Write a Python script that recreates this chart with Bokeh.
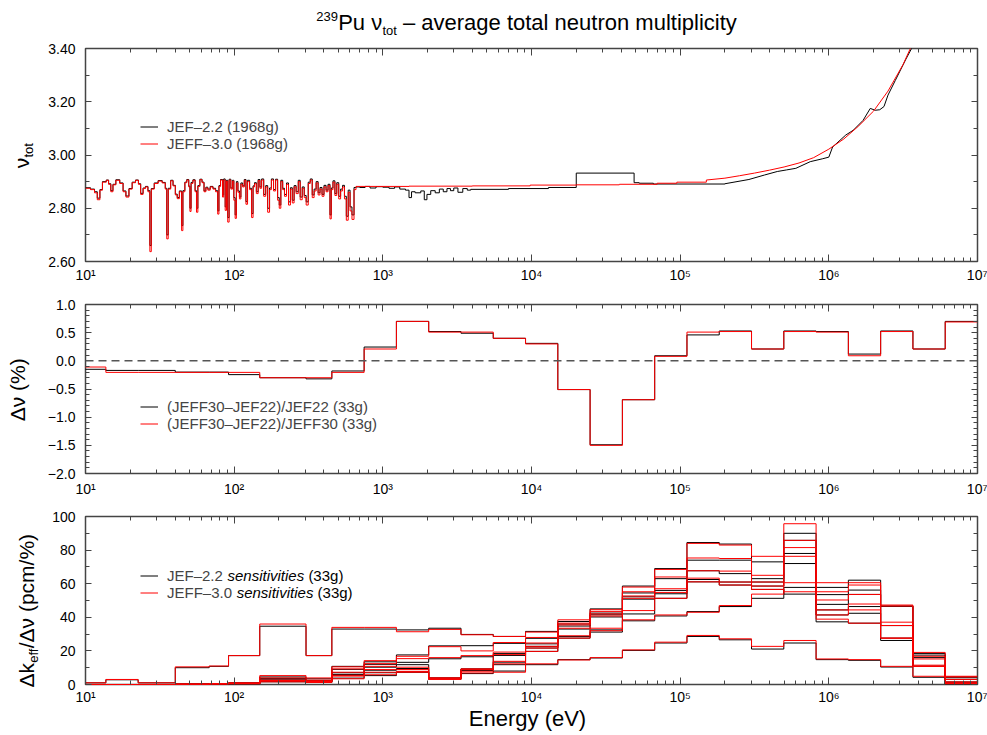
import math
from bokeh.plotting import figure
from bokeh.models import (LogAxis, LinearAxis, FixedTicker, CustomJSTickFormatter,
                          Label, Legend, LegendItem, Span, Range1d)
from bokeh.layouts import column, row
from bokeh.embed import file_html
from bokeh.resources import INLINE

FONT = "Liberation Sans"
BLACK = "#000000"
RED = "#ff0000"
FRAME = "#444444"

# ---------------- panel 1 : nu_tot (1968 groups) ----------------
e_res = [10.0, 10.8, 11.5, 12.0, 12.5, 13.0, 13.8, 14.3, 14.8, 15.3,
         16.0, 17.0, 17.9, 18.7, 19.6, 20.6, 21.7, 22.7, 23.5, 24.4,
         25.3, 26.3, 27.1, 27.7, 29.0, 30.8, 32.8, 34.4, 35.2, 36.0,
         37.4, 38.8, 40.2, 41.4, 42.8, 44.3, 45.2, 46.6, 48.0, 49.5,
         50.4, 51.3, 52.8, 54.6, 55.8, 57.0, 58.8, 60.8, 62.7, 64.5,
         66.5, 69.0, 72.0, 75.0, 77.5, 79.0, 81.0, 83.5, 85.0, 87.0,
         88.8, 90.5, 92.5, 95.0, 97.5, 99.5, 101.5, 103.5, 106.0, 108.5,
         111.0, 114.0, 117.0, 120.0, 123.0, 127.0, 131.0, 134.0, 137.0, 141.0,
         145.0, 149.0, 153.0, 158.0, 163.0, 168.0, 173.0, 178.0, 184.0, 190.0,
         196.0, 201.0, 206.0, 212.0, 218.0, 225.0, 232.0, 239.0, 246.0, 253.0,
         261.0, 270.0, 278.0, 287.0, 296.0, 305.0, 315.0, 325.0, 335.0, 345.0,
         356.0, 367.0, 378.0, 390.0, 402.0, 415.0, 428.0, 441.0, 450.0, 462.0,
         476.0, 490.0, 505.0, 520.0, 536.0, 552.0, 568.0, 585.0, 602.0, 620.0,
         640.0]
nu_res_jeff30 = [2.875, 2.870, 2.858, 2.832, 2.868, 2.898, 2.905, 2.890, 2.862, 2.888,
                 2.905, 2.893, 2.862, 2.842, 2.872, 2.896, 2.905, 2.890, 2.852, 2.874,
                 2.880, 2.862, 2.637, 2.872, 2.893, 2.902, 2.895, 2.872, 2.685, 2.872,
                 2.903, 2.884, 2.850, 2.836, 2.862, 2.716, 2.862, 2.896, 2.906, 2.880,
                 2.788, 2.893, 2.905, 2.862, 2.785, 2.882, 2.907, 2.896, 2.862, 2.876,
                 2.868, 2.880, 2.872, 2.862, 2.778, 2.882, 2.906, 2.842, 2.906, 2.792,
                 2.902, 2.748, 2.906, 2.872, 2.902, 2.830, 2.762, 2.895, 2.860, 2.835,
                 2.890, 2.880, 2.905, 2.815, 2.900, 2.870, 2.765, 2.880, 2.892, 2.855,
                 2.904, 2.875, 2.906, 2.845, 2.880, 2.785, 2.870, 2.906, 2.865, 2.906,
                 2.830, 2.800, 2.900, 2.870, 2.845, 2.890, 2.812, 2.872, 2.820, 2.880,
                 2.855, 2.900, 2.832, 2.875, 2.840, 2.812, 2.893, 2.906, 2.840, 2.865,
                 2.895, 2.850, 2.872, 2.845, 2.880, 2.862, 2.885, 2.760, 2.870, 2.898,
                 2.848, 2.890, 2.835, 2.865, 2.880, 2.835, 2.755, 2.860, 2.790, 2.758,
                 2.870]
nu_res_jef22 = [2.877, 2.872, 2.862, 2.838, 2.870, 2.900, 2.906, 2.892, 2.866, 2.890,
                2.907, 2.895, 2.865, 2.846, 2.874, 2.898, 2.906, 2.892, 2.856, 2.876,
                2.882, 2.866, 2.660, 2.874, 2.895, 2.904, 2.897, 2.875, 2.700, 2.875,
                2.905, 2.886, 2.853, 2.840, 2.865, 2.735, 2.866, 2.898, 2.908, 2.883,
                2.800, 2.897, 2.907, 2.866, 2.800, 2.885, 2.909, 2.898, 2.865, 2.879,
                2.872, 2.882, 2.875, 2.866, 2.790, 2.885, 2.908, 2.850, 2.910, 2.805,
                2.905, 2.765, 2.909, 2.876, 2.905, 2.840, 2.775, 2.900, 2.865, 2.842,
                2.895, 2.884, 2.908, 2.825, 2.905, 2.875, 2.780, 2.884, 2.896, 2.862,
                2.908, 2.880, 2.910, 2.852, 2.885, 2.800, 2.876, 2.910, 2.870, 2.909,
                2.840, 2.812, 2.905, 2.875, 2.852, 2.895, 2.824, 2.877, 2.830, 2.885,
                2.862, 2.905, 2.842, 2.880, 2.848, 2.824, 2.898, 2.910, 2.850, 2.872,
                2.900, 2.858, 2.878, 2.852, 2.886, 2.868, 2.890, 2.775, 2.876, 2.903,
                2.855, 2.896, 2.845, 2.872, 2.886, 2.845, 2.770, 2.868, 2.805, 2.775,
                2.878]

e_step_jef22 = [660, 700, 760, 820, 900, 1000, 1100, 1200, 1300, 1420,
                1500, 1560, 1650, 1800, 1900, 1980, 2100, 2250, 2400, 2550,
                2700, 2850, 3000, 3200, 3450, 3700, 3900, 7000, 13000, 20000,
                49000, 53000, 66000, 200000]
nu_step_jef22 = [2.880, 2.878, 2.882, 2.876, 2.881, 2.879, 2.875, 2.880, 2.872, 2.868,
                 2.840, 2.862, 2.858, 2.865, 2.832, 2.852, 2.866, 2.858, 2.872, 2.862,
                 2.874, 2.866, 2.876, 2.860, 2.874, 2.868, 2.871, 2.874, 2.878, 2.932,
                 2.896, 2.894, 2.891, 2.892]
e_fast_jef22 = [2.0e5, 2.9e5, 3.7e5, 4.5e5, 5.2e5, 6.0e5, 7.5e5, 9.1e5, 1.0e6, 1.06e6,
                1.3e6, 1.46e6, 1.7e6, 1.9e6, 2.05e6, 2.2e6, 2.35e6, 2.5e6, 2.8e6, 3.3e6,
                3.6e6, 4.0e6]
nu_fast_jef22 = [2.892, 2.908, 2.925, 2.938, 2.944, 2.950, 2.975, 2.986, 2.992, 3.030,
                 3.075, 3.093, 3.130, 3.175, 3.168, 3.170, 3.182, 3.225, 3.280, 3.360,
                 3.400, 3.470]

e_step_jeff30 = [660, 1500, 4000, 9800, 20000, 39000, 70000, 95000, 150000]
nu_step_jeff30 = [2.882, 2.883, 2.884, 2.887, 2.888, 2.890, 2.894, 2.898, 2.906]
e_fast_jeff30 = [1.5e5, 2.0e5, 2.5e5, 3.16e5, 3.98e5, 5.0e5, 6.3e5, 7.9e5, 1.0e6, 1.26e6,
                 1.58e6, 2.0e6, 2.5e6, 3.16e6, 3.5e6, 4.0e6]
nu_fast_jeff30 = [2.906, 2.913, 2.922, 2.932, 2.943, 2.955, 2.970, 2.990, 3.022, 3.060,
                  3.108, 3.165, 3.240, 3.340, 3.395, 3.470]

# ---------------- 33-group (ECCO) structure, eV ----------------
ecco_edges = [8.315287, 13.70959, 22.60329, 40.16900, 67.90405, 91.66088, 148.6254,
              304.3248, 453.9993, 748.5183, 1234.098, 2034.684, 3354.626, 5530.844,
              9118.820, 15034.39, 24787.52, 40867.71, 67379.47, 111090.0, 183156.4,
              301973.8, 497870.7, 820850.0, 1353353.0, 2231302.0, 3678794.0,
              6065307.0, 10000000.0]

# ---------------- panel 2 : delta nu (%) ----------------
dnu_rel_jef22 = [-0.15, -0.17, -0.17, -0.20, -0.20, -0.245, -0.30, -0.32, -0.18, 0.245,
                 0.70, 0.52, 0.49, 0.40, 0.31, -0.51, -1.49, -0.69, 0.09, 0.46,
                 0.53, 0.21, 0.53, 0.52, 0.12, 0.53, 0.21, 0.70]
dnu_rel_jeff30 = [-0.11, -0.205, -0.205, -0.205, -0.205, -0.205, -0.30, -0.30, -0.205, 0.21,
                  0.70, 0.51, 0.51, 0.40, 0.30, -0.51, -1.50, -0.69, 0.08, 0.51,
                  0.52, 0.21, 0.52, 0.51, 0.09, 0.52, 0.21, 0.69]

# ---------------- panel 3 : sensitivities (pcm/%) ----------------
sA_jef22 = [1.0, 2.8, 1.0, 10.0, 10.8, 17.2, 34.7, 17.2, 33.0, 33.0, 32.5, 33.5, 29.8, 28.6,
            31.6, 28.6, 31.2, 37.9, 40.8, 43.4, 46.4, 51.3, 57.8, 37.3, 36.5, 26.2, 10.8, 1.4]
sA_jeff30 = [1.0, 3.0, 1.0, 10.5, 11.0, 17.2, 36.0, 17.2, 34.0, 34.0, 31.4, 32.8, 29.6, 28.6,
             31.2, 29.0, 32.0, 38.5, 41.4, 43.0, 47.0, 53.8, 60.6, 38.9, 36.5, 27.6, 11.5, 1.4]
sF1_jef22 = [0, 0, 0, 0.3, 0.5, 1.0, 4.5, 3.4, 10.8, 13.5, 17.6, 23.0, 23.1, 24.5,
             27.5, 37.5, 45.0, 58.6, 69.0, 84.5, 83.6, 73.0, 90.0, 57.8, 62.1, 46.7, 18.5, 4.5]
sF1_jeff30 = [0, 0, 0, 0.3, 0.5, 1.0, 5.3, 3.9, 10.5, 14.2, 16.8, 22.5, 20.0, 25.0,
              28.0, 38.5, 44.5, 58.0, 68.5, 84.0, 83.0, 76.3, 95.7, 60.6, 60.6, 47.3, 19.1, 4.9]
sF2_jef22 = [0, 0, 0, 0.2, 0.3, 0.8, 3.5, 2.4, 9.0, 12.0, 13.2, 15.3, 16.5, 18.5,
             24.2, 36.0, 42.5, 54.5, 63.0, 74.0, 74.0, 63.0, 85.8, 53.5, 56.2, 46.5, 17.5, 4.0]
sF2_jeff30 = [0, 0, 0, 0.2, 0.3, 0.8, 3.9, 2.6, 9.3, 12.4, 15.4, 16.0, 17.2, 19.3,
              24.7, 36.5, 43.4, 55.2, 64.0, 75.3, 75.0, 65.0, 85.8, 55.2, 59.2, 46.7, 16.8, 4.5]
sF3_jef22 = [0, 0, 0, 0.2, 0.3, 0.6, 2.8, 2.2, 7.0, 10.3, 11.8, 4.0, 9.0, 17.3,
             22.7, 34.8, 41.5, 52.2, 56.0, 67.7, 66.0, 61.0, 78.0, 47.7, 53.6, 35.1, 16.0, 3.0]
sF3_jeff30 = [0, 0, 0, 0.2, 0.3, 0.6, 2.6, 2.2, 7.3, 10.8, 10.3, 4.0, 9.3, 17.8,
              22.7, 35.5, 42.0, 52.7, 57.0, 67.7, 67.5, 61.0, 81.5, 50.3, 53.6, 37.1, 15.2, 3.0]
sF4_jef22 = [0, 0, 0, 0, 0.2, 0.5, 2.0, 1.6, 6.0, 8.5, 9.5, 3.5, 8.3, 13.3,
             21.7, 33.0, 40.2, 50.8, 54.0, 62.5, 61.0, 58.6, 72.0, 44.4, 46.4, 35.1, 10.8, 1.4]
sF4_jeff30 = [0, 0, 0, 0, 0.2, 0.5, 2.0, 1.6, 5.5, 8.9, 8.9, 3.5, 7.9, 13.8,
              21.7, 33.5, 40.8, 51.3, 54.8, 63.3, 61.0, 58.6, 76.3, 44.4, 47.9, 35.1, 10.8, 1.4]
sF5_jef22 = [0, 0, 0, 0, 0.2, 0.4, 1.6, 1.2, 3.8, 7.0, 7.5, 3.0, 6.5, 8.0,
             19.7, 27.6, 32.5, 42.0, 51.3, 61.1, 59.2, 56.6, 53.8, 41.4, 42.4, 27.6, 10.8, 0.4]
sF5_jeff30 = [0, 0, 0, 0, 0.2, 0.4, 1.6, 1.2, 3.4, 7.3, 7.3, 3.0, 6.9, 7.3,
              19.7, 27.6, 33.5, 44.0, 51.3, 61.1, 59.2, 56.6, 55.2, 41.4, 44.4, 27.6, 10.8, 0.4]
sL_jef22 = [0, 0, 0, 0, 0.2, 0.5, 2.0, 1.6, 5.5, 5.3, 7.3, 3.5, 9.3, 11.8,
            11.8, 14.8, 15.8, 20.3, 24.7, 28.6, 26.6, 21.1, 24.7, 14.8, 14.4, 10.4, 4.3, 0.4]
sL_jeff30 = [0, 0, 0, 0, 0.2, 0.5, 2.4, 1.8, 5.0, 5.8, 7.8, 3.2, 9.0, 12.3,
             12.3, 14.6, 16.0, 20.6, 25.2, 29.2, 27.2, 22.7, 26.2, 15.2, 14.8, 10.8, 4.9, 0.6]

sens_jef22 = [sA_jef22, sF1_jef22, sF2_jef22, sF3_jef22, sF4_jef22, sF5_jef22, sL_jef22]
sens_jeff30 = [sA_jeff30, sF1_jeff30, sF2_jeff30, sF3_jeff30, sF4_jeff30, sF5_jeff30, sL_jeff30]

x_tick_labels = ["10\u00b9", "10\u00b2", "10\u00b3", "10\u2074", "10\u2075", "10\u2076", "10\u2077"]

# ---------------- text helpers ----------------
W = {' ': 278, '(': 333, ')': 333, '%': 889, '/': 278, '.': 278, '\u2013': 556, '\u2212': 584,
     'E': 667, 'F': 611, 'J': 500, 'P': 667, 'V': 667, 'a': 556, 'c': 500, 'e': 556,
     'f': 278, 'g': 556, 'i': 222, 'k': 500, 'l': 222, 'm': 833, 'n': 556, 'o': 556,
     'p': 556, 'r': 333, 's': 500, 't': 278, 'u': 556, 'v': 500, 'y': 500,
     '\u0394': 668, '\u03bd': 520}
MID = 0.35   # distance from baseline to the text box centre, in em


def tw(s, size):
    return sum(W.get(c, 556) for c in s) * size / 1000.0


def lab(p, x, y, text, size, angle=0.0, style="normal"):
    p.add_layout(Label(x=x, y=y, x_units="screen", y_units="screen", text=text,
                       angle=angle, angle_units="rad", text_font=FONT,
                       text_font_size=f"{size}px", text_font_style=style,
                       text_color="black", text_align="center", text_baseline="middle"))


def hlabel(p, parts, x0, base_y, fig_bottom):
    """parts: (text, size, raise_px); base_y is the canvas baseline."""
    x = x0
    for text, size, shift in parts:
        t = text.lstrip(" ")
        x += tw(text[:len(text) - len(t)], size)
        w = tw(t, size)
        cy = base_y - shift - MID * size
        lab(p, x + w / 2, fig_bottom - cy, t, size)
        x += w


def vlabel(p, parts, base_x, start_y, fig_bottom):
    """rotated text reading upwards; parts: (text, size, lower_px)."""
    y = start_y
    for text, size, shift in parts:
        w = tw(text, size)
        cx = base_x + shift - MID * size
        lab(p, cx, fig_bottom - (y - w / 2), text, size, angle=math.pi / 2)
        y -= w


def steps(edges, vals):
    return list(edges[:len(vals)]) + [edges[len(vals)]], list(vals) + [vals[-1]]


def text_fig(w, h):
    f = figure(width=w, height=h, x_range=Range1d(0, 1), y_range=Range1d(0, 1),
               x_axis_location=None, y_axis_location=None, output_backend="svg",
               toolbar_location=None, min_border=0)
    f.min_border_left = f.min_border_right = f.min_border_top = f.min_border_bottom = 0
    f.outline_line_color = None
    f.grid.visible = False
    return f


XT = FixedTicker(ticks=[10, 100, 1000, 10000, 100000, 1000000, 10000000],
                 minor_ticks=[m * 10 ** k for k in range(1, 7) for m in range(2, 10)])
XFMT = CustomJSTickFormatter(args=dict(labs=x_tick_labels),
                             code="return labs[Math.round(Math.log10(tick)) - 1];")
EMPTY = CustomJSTickFormatter(code="return '';")


def style_axis(ax, tin, tmin, standoff):
    ax.major_tick_in = tin
    ax.major_tick_out = 0
    ax.minor_tick_in = tmin
    ax.minor_tick_out = 0
    ax.major_tick_line_color = FRAME
    ax.minor_tick_line_color = FRAME
    ax.major_tick_line_width = 1
    ax.axis_line_color = None
    ax.major_label_text_font = FONT
    ax.major_label_text_font_size = "14px"
    ax.major_label_text_color = "black"
    ax.major_label_standoff = standoff


LEFT = 40          # width of the y-label strip
MAIN_W = 987 - LEFT


def make_fig(height, top, bottom, y0, y1, yticks, yminor, ycode, xstand):
    p = figure(width=MAIN_W, height=height, x_axis_type="log",
               x_range=Range1d(10, 1e7), y_range=Range1d(y0, y1),
               output_backend="svg", toolbar_location=None,
               min_border_left=85 - LEFT, min_border_right=10,
               min_border_top=top, min_border_bottom=bottom)
    p.grid.visible = False
    p.outline_line_color = FRAME
    p.outline_line_width = 1.5
    yt = FixedTicker(ticks=yticks, minor_ticks=yminor)
    yf = CustomJSTickFormatter(code=ycode)
    p.xaxis.ticker = XT
    p.xaxis.formatter = XFMT
    p.yaxis.ticker = yt
    p.yaxis.formatter = yf
    style_axis(p.xaxis[0], 7, 4, xstand)
    style_axis(p.yaxis[0], 6, 4, 10)
    top_ax = LogAxis(ticker=XT, formatter=EMPTY)
    style_axis(top_ax, 7, 4, 0)
    p.add_layout(top_ax, "above")
    right_ax = LinearAxis(ticker=yt, formatter=EMPTY)
    style_axis(right_ax, 6, 4, 0)
    p.add_layout(right_ax, "right")
    return p


def make_legend(p, items, loc):
    leg = Legend(items=items, location=loc, border_line_color=None,
                 background_fill_alpha=0, padding=0, margin=0, spacing=0,
                 glyph_height=17, glyph_width=18, label_height=17, label_standoff=9,
                 label_text_font=FONT, label_text_font_size="15px")
    p.add_layout(leg)


# ---------------- title strip (canvas y 0..40) ----------------
ft = text_fig(987, 40)
t_parts = [("239", 13, 9), ("Pu \u03bd", 22, 0), ("tot", 13, -5),
           (" \u2013 average total neutron multiplicity", 22, 0)]
t_w = sum(tw(t, s) for t, s, _ in t_parts)
hlabel(ft, t_parts, 526 - t_w / 2, 30, 40)

# ---------------- panel 1 (canvas y 40..291, frame 48..261) ----------------
p1 = make_fig(251, 8, 30, 2.60, 3.40,
              [2.6, 2.8, 3.0, 3.2, 3.4],
              [2.7, 2.9, 3.1, 3.3],
              "return tick.toFixed(2);", 5)
xb = e_res + e_step_jef22
yb = nu_res_jef22 + nu_step_jef22
xr = e_res + e_step_jeff30
yr = nu_res_jeff30 + nu_step_jeff30
rb = p1.step(xb, yb, mode="after", line_color=BLACK, line_width=1)
p1.line(e_fast_jef22, nu_fast_jef22, line_color=BLACK, line_width=1)
rr = p1.step(xr, yr, mode="after", line_color=RED, line_width=1)
p1.line(e_fast_jeff30, nu_fast_jeff30, line_color=RED, line_width=1)
make_legend(p1, [LegendItem(label="JEF\u20132.2 (1968g)", renderers=[rb]),
                 LegendItem(label="JEFF\u20133.0 (1968g)", renderers=[rr])], (55, 109.5))

# ---------------- panel 2 (canvas y 291..503, frame 304..473) ----------------
p2 = make_fig(212, 13, 30, -2.0, 1.0,
              [-2.0, -1.5, -1.0, -0.5, 0.0, 0.5, 1.0],
              [round(-2.0 + 0.1 * i, 2) for i in range(31) if i % 5 != 0],
              "return (tick < 0 ? '\\u2212' : '') + Math.abs(tick).toFixed(1);", 7)
p2.add_layout(Span(location=0, dimension="width", line_color="#555555",
                   line_dash="8 5", line_width=1.5))
x2, y2b = steps(ecco_edges, dnu_rel_jef22)
_, y2r = steps(ecco_edges, dnu_rel_jeff30)
r2b = p2.step(x2, y2b, mode="after", line_color=BLACK, line_width=1)
r2r = p2.step(x2, y2r, mode="after", line_color=RED, line_width=1)
make_legend(p2, [LegendItem(label="(JEFF30\u2013JEF22)/JEF22 (33g)", renderers=[r2b]),
                 LegendItem(label="(JEFF30\u2013JEF22)/JEFF30 (33g)", renderers=[r2r])], (55, 41.5))

# ---------------- panel 3 (canvas y 503..707, frame 516..685) ----------------
p3 = make_fig(204, 13, 22, 0, 100,
              [0, 20, 40, 60, 80, 100], [10, 30, 50, 70, 90],
              "return tick.toFixed(0);", 4)
r3b = None
r3r = None
for vals in sens_jef22:
    xs, ys = steps(ecco_edges, vals)
    r = p3.step(xs, ys, mode="after", line_color=BLACK, line_width=1)
    r3b = r3b or r
for vals in sens_jeff30:
    xs, ys = steps(ecco_edges, vals)
    r = p3.step(xs, ys, mode="after", line_color=RED, line_width=1)
    r3r = r3r or r
make_legend(p3, [LegendItem(label="JEF\u20132.2", renderers=[r3b]),
                 LegendItem(label="JEFF\u20133.0", renderers=[r3r])], (55, 83.5))
for name, rw in (("JEF\u20132.2", 0), ("JEFF\u20133.0", 1)):
    xs0 = 55 + 18 + 9 + tw(name + " ", 15)
    yc = 685 - (567.5 + 8.5 + 17 * rw)
    w1 = tw("sensitivities", 15)
    lab(p3, xs0 + w1 / 2, yc, "sensitivities", 15, style="italic")
    xs1 = xs0 + tw("sensitivities ", 15)
    lab(p3, xs1 + tw("(33g)", 15) / 2, yc, "(33g)", 15)

# ---------------- y-label strip (canvas y 40..707) ----------------
ys = text_fig(LEFT, 667)
BOT = 707
vlabel(ys, [("\u03bd", 21, 0), ("tot", 13, 5)], 28, 168, BOT)
vlabel(ys, [("\u0394\u03bd (%)", 21, 0)], 24, 421, BOT)
vlabel(ys, [("\u0394k", 21, 0), ("eff", 13, 5), ("/\u0394\u03bd (pcm/%)", 21, 0)], 33, 687, BOT)

# ---------------- x label strip (canvas y 707..735) ----------------
fx = text_fig(987, 28)
hlabel(fx, [("Energy (eV)", 22, 0)], 527 - tw("Energy (eV)", 22) / 2, 726 - 707, 28)

layout = column(ft,
                row(ys, column(p1, p2, p3, spacing=0), spacing=0),
                fx, spacing=0)
open("out.html", "w").write(file_html(layout, INLINE))
